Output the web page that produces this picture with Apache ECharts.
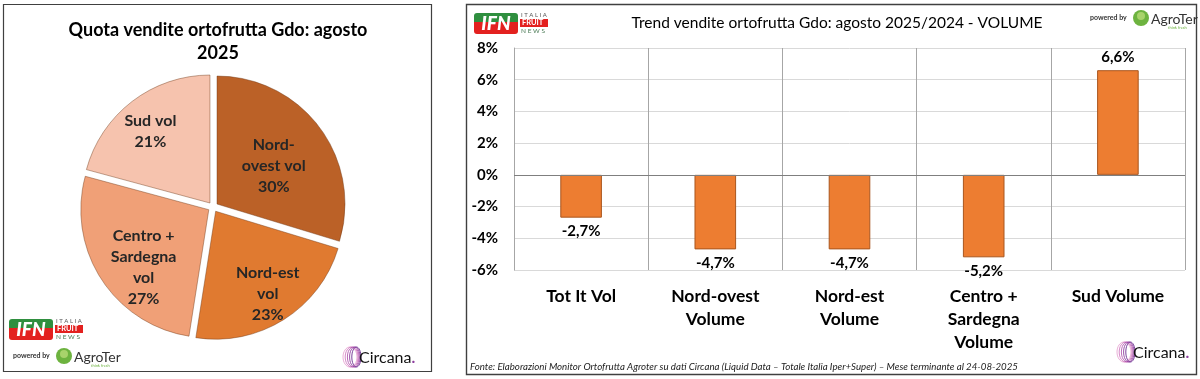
<!DOCTYPE html>
<html>
<head>
<meta charset="utf-8">
<script src="https://cdn.jsdelivr.net/npm/echarts@6/dist/echarts.min.js"></script>
<style>
html,body{margin:0;padding:0;background:#fff;}
#c{width:1200px;height:379px;}
</style>
</head>
<body>
<div id="c"></div>
<script>
// ---- data ----
const regions = ['Nord-ovest vol', 'Nord-est vol', 'Centro + Sardegna vol', 'Sud vol'];
const regionLabels = ['Nord-\novest vol', 'Nord-est\nvol', 'Centro +\nSardegna\nvol', 'Sud vol'];
const shares = [30, 23, 27, 21];
const categories = ['Tot It Vol', 'Nord-ovest\nVolume', 'Nord-est\nVolume', 'Centro +\nSardegna\nVolume', 'Sud Volume'];
const trend = [-2.7, -4.7, -4.7, -5.2, 6.6];
const yMin = -6, yMax = 8, yStep = 2;
const pieTitle = 'Quota vendite ortofrutta Gdo: agosto\n2025';
const barTitle = 'Trend vendite ortofrutta Gdo: agosto 2025/2024 - VOLUME';
const footnote = 'Fonte: Elaborazioni Monitor Ortofrutta Agroter su dati Circana (Liquid Data \u2013 Totale Italia Iper+Super) \u2013 Mese terminante al 24-08-2025';

// ---- styles ----
const FONT = 'Lato, "Open Sans", sans-serif';
const pieColors = ['#BB6127', '#E07A30', '#F0A077', '#F6C3AE'];
const fmtPct = v => v.toFixed(1).replace('.', ',') + '%';
// small label nudges (text placement only)
const pieLabelNudge = [[-22, 20], [0, 0], [17, 4], [0, 6]];

function ifnLogo(x, y) {
  return {
    type: 'group', x: x, y: y, silent: true,
    children: [
      {type: 'rect', shape: {x: 0, y: 0, width: 44, height: 9, r: [3, 3, 0, 0]}, style: {fill: '#2F8F3F'}},
      {type: 'rect', shape: {x: 0, y: 9, width: 44, height: 12, r: [0, 0, 3, 3]}, style: {fill: '#E3211F'}},
      {type: 'text', style: {x: 22, y: 11, text: 'IFN', fill: '#fff', font: 'italic 900 19px ' + FONT, align: 'center', verticalAlign: 'middle'}},
      {type: 'text', style: {x: 47, y: 2, text: 'I T A L I A', fill: '#555', font: '6px ' + FONT, verticalAlign: 'middle'}},
      {type: 'rect', shape: {x: 46, y: 6, width: 28, height: 8}, style: {fill: '#E3211F'}},
      {type: 'text', style: {x: 48, y: 10, text: 'FRUIT', fill: '#fff', font: 'bold 7.5px ' + FONT, verticalAlign: 'middle'}},
      {type: 'text', style: {x: 47, y: 18, text: 'N E W S', fill: '#4a7a55', font: '6.5px ' + FONT, verticalAlign: 'middle'}}
    ]
  };
}
function agroLogo(x, y) {
  return {
    type: 'group', x: x, y: y, silent: true,
    children: [
      {type: 'text', style: {x: 0, y: 0, text: 'powered by', fill: '#333', font: 'bold 7px ' + FONT, verticalAlign: 'middle'}},
      {type: 'circle', shape: {cx: 51, cy: 0, r: 8}, style: {fill: '#6DB33F'}},
      {type: 'circle', shape: {cx: 51, cy: -2, r: 4}, style: {fill: '#A8D36B'}},
      {type: 'text', style: {x: 61, y: 1, text: 'AgroTer', fill: '#333', font: '14px ' + FONT, verticalAlign: 'middle'}},
      {type: 'text', style: {x: 78, y: 10, text: 'think fresh', fill: '#6DB33F', font: '4px ' + FONT, verticalAlign: 'middle'}}
    ]
  };
}
function circanaLogo(x, y) {
  const rings = [];
  const cols = ['#E7A6D3', '#D07BC0', '#B25AB0', '#8E3E9F', '#6B2C8E'];
  for (let i = 0; i < 5; i++) {
    rings.push({type: 'ellipse', shape: {cx: 2 + i * 1.6, cy: 0, rx: 7 - i * 0.6, ry: 10}, style: {fill: 'none', stroke: cols[i], lineWidth: 0.9}});
  }
  rings.push({type: 'text', style: {
    x: 11, y: 1, text: 'Circana{d|.}', fill: '#111', font: '16px ' + FONT, verticalAlign: 'middle',
    rich: {d: {fill: '#8E3E9F', font: 'bold 16px ' + FONT}}
  }});
  return {type: 'group', x: x, y: y, silent: true, children: rings};
}

const chart = echarts.init(document.getElementById('c'), null, {renderer: 'canvas'});

const option = {
  backgroundColor: '#fff',
  animation: false,
  textStyle: {fontFamily: FONT},
  title: [
    {
      text: pieTitle, left: 213, top: 13.5, textAlign: 'center',
      textStyle: {fontSize: 18, fontWeight: 'bold', color: '#000', lineHeight: 23, fontFamily: FONT}
    },
    {
      text: barTitle, left: 832, top: 9, textAlign: 'center',
      textStyle: {fontSize: 15.5, fontWeight: 'normal', color: '#000', lineHeight: 18, fontFamily: FONT}
    }
  ],
  grid: {left: 514, right: 15, top: 48, bottom: 109},
  xAxis: {
    type: 'category', data: categories,
    axisTick: {show: false},
    axisLine: {show: false, onZero: false},
    splitLine: {show: true, lineStyle: {color: '#A6A6A6', width: 1}},
    axisLabel: {fontSize: 17.5, fontWeight: 'bold', color: '#000', lineHeight: 23, margin: 15, interval: 0, fontFamily: FONT}
  },
  yAxis: {
    type: 'value', min: yMin, max: yMax, interval: yStep,
    axisLine: {show: true, lineStyle: {color: '#A6A6A6'}},
    axisTick: {show: false},
    splitLine: {lineStyle: {color: '#D9D9D9'}},
    axisLabel: {formatter: v => v + '%', fontSize: 15, fontWeight: 'bold', color: '#000', margin: 16, fontFamily: FONT}
  },
  series: [
    {
      type: 'pie', center: [213, 207], radius: 128,
      startAngle: 90, clockwise: true,
      selectedMode: 'multiple', selectedOffset: 5,
      silent: true,
      label: {show: false}, labelLine: {show: false},
      itemStyle: {borderColor: 'rgba(110,55,20,0.55)', borderWidth: 0.8},
      emphasis: {disabled: true},
      data: regions.map((n, i) => ({name: n, value: shares[i], selected: true, itemStyle: {color: pieColors[i]}}))
    },
    {
      type: 'pie', center: [213, 207], radius: 190,
      startAngle: 90, clockwise: true,
      selectedMode: 'multiple', selectedOffset: 5,
      silent: true,
      itemStyle: {color: 'rgba(0,0,0,0)'},
      labelLine: {show: false},
      emphasis: {disabled: true},
      label: {
        show: true, position: 'inside',
        formatter: p => regionLabels[p.dataIndex] + '\n' + p.value + '%',
        fontSize: 16, fontWeight: 'bold', color: '#262626', lineHeight: 21, fontFamily: FONT
      },
      labelLayout: p => ({dx: pieLabelNudge[p.dataIndex][0], dy: pieLabelNudge[p.dataIndex][1]}),
      data: regions.map((n, i) => ({name: n, value: shares[i], selected: true}))
    },
    {
      type: 'bar', barWidth: '31%',
      itemStyle: {color: '#ED7D31', borderColor: '#A9561E', borderWidth: 1},
      label: {
        show: true, fontSize: 15, fontWeight: 'bold', color: '#000', distance: 6,
        formatter: p => fmtPct(p.value), fontFamily: FONT
      },
      data: trend.map(v => ({value: v, label: {position: v < 0 ? 'bottom' : 'top'}})),
      markLine: {
        silent: true, symbol: 'none', label: {show: false},
        lineStyle: {color: '#7F7F7F', type: 'solid', width: 1},
        data: [{yAxis: 0}]
      }
    }
  ],
  graphic: [
    {type: 'rect', silent: true, shape: {x: 3.5, y: 4.5, width: 428, height: 367}, style: {fill: 'none', stroke: '#404040', lineWidth: 1.2}},
    {type: 'rect', silent: true, shape: {x: 466.5, y: 4.5, width: 730, height: 370}, style: {fill: 'none', stroke: '#404040', lineWidth: 1.4}},
    {type: 'text', silent: true, style: {x: 470, y: 367, text: footnote, fill: '#222', font: 'italic 9.7px "Liberation Sans Narrow", ' + FONT, verticalAlign: 'middle'}},
    ifnLogo(474, 13),
    ifnLogo(9, 319),
    agroLogo(1090, 18),
    agroLogo(13, 356),
    circanaLogo(1122, 352),
    circanaLogo(348, 357)
  ]
};
chart.setOption(option);
</script>
</body>
</html>
